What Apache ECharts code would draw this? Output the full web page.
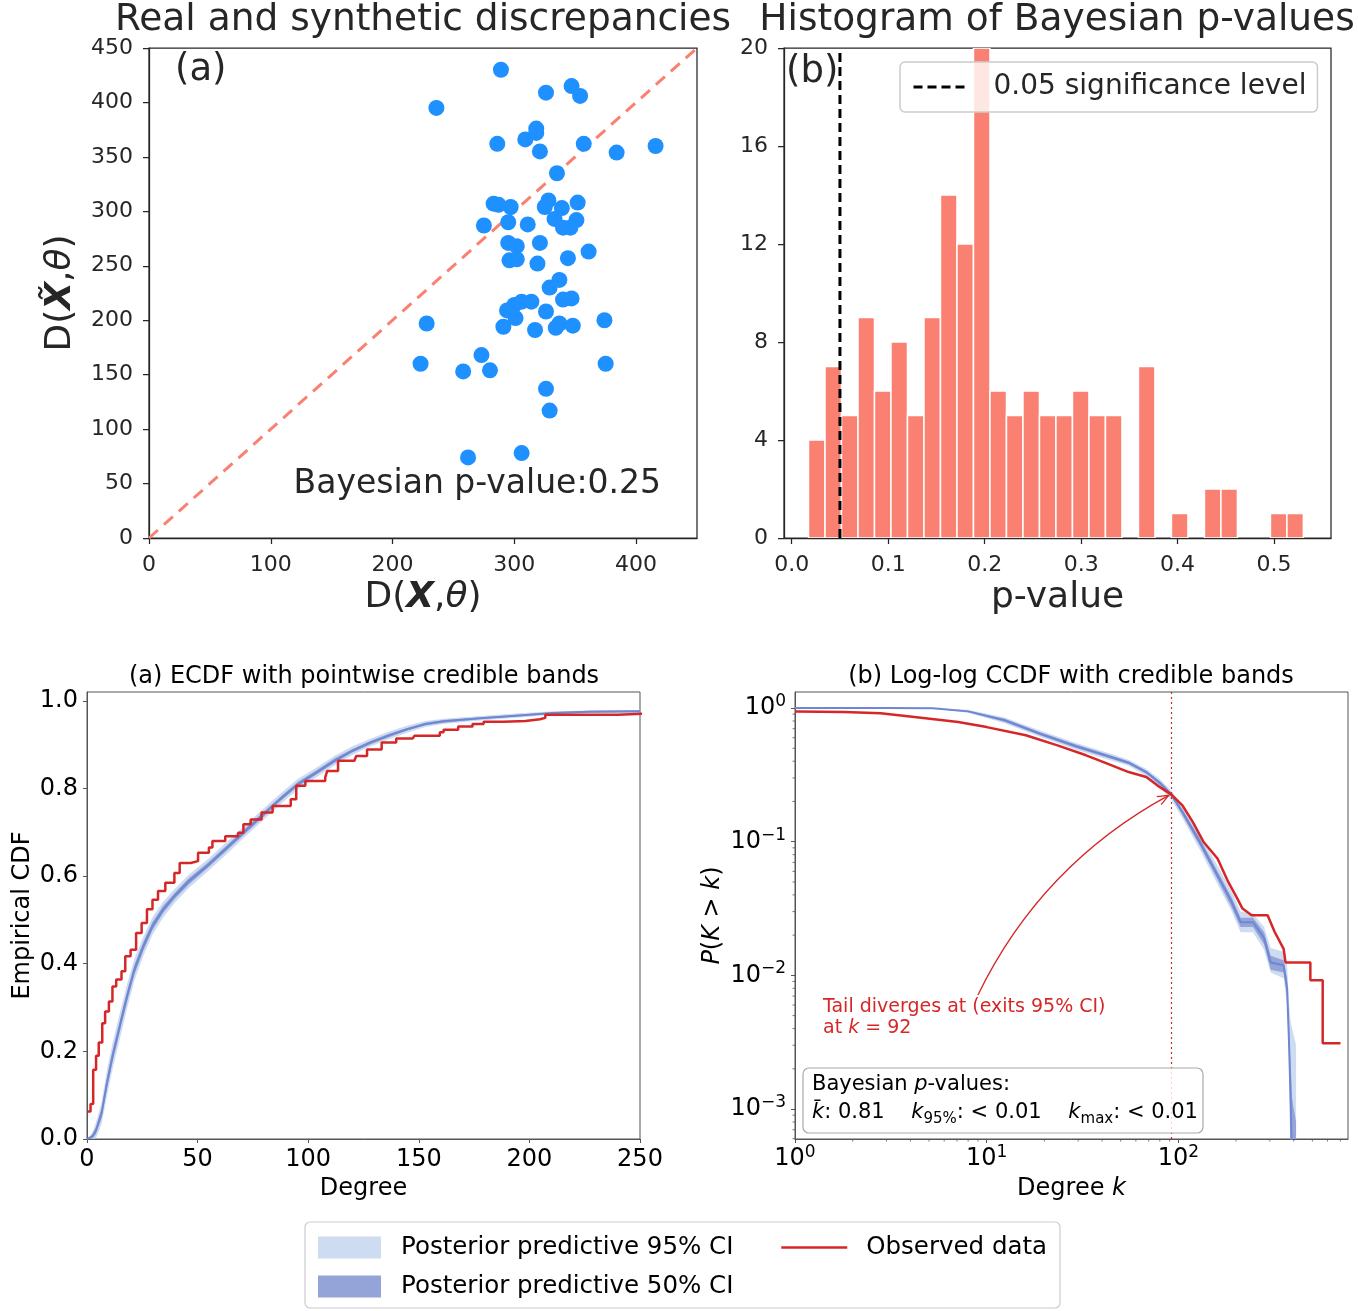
<!DOCTYPE html>
<html>
<head>
<meta charset="utf-8">
<script src="https://cdn.jsdelivr.net/npm/echarts@6/dist/echarts.min.js"></script>
<style>
  html, body { margin: 0; padding: 0; background: #fff; }
  #chart { width: 1358px; height: 1311px; }
</style>
</head>
<body>
<div id="chart"></div>
<script>
// ---- (a) real vs synthetic discrepancies, one point per posterior draw ----
var realDisc  = [289,236,326,347,354,286,309,318,318,321,357,384,416,335,283,287,297,328,325,339,352,275,295,311,333,340,351,346,295,302,321,361,296,302,319,344,337,329,294,300,306,314,326,301,340,347,291,317,337,334,348,228,374,223,273,258,280,375,326,329,262,306];
var synthDisc = [430,395,409,415,406,362,366,376,372,355,362,354,360,335,307,306,304,310,304,303,308,287,290,288,293,285,292,285,271,268,271,263,255,256,252,257,237,230,209,214,217,217,208,202,219,220,194,191,197,193,195,197,200,160,168,153,154,160,137,117,74,78];
var scatterTicksX = [0, 100, 200, 300, 400];
var scatterTicksY = [0, 50, 100, 150, 200, 250, 300, 350, 400, 450];

// ---- (b) histogram of Bayesian p-values ----
var pBinStart = 0.0174;
var pBinWidth = 0.0171;
var pCounts = [4,7,5,9,6,8,5,9,14,12,20,6,5,6,5,5,6,5,5,0,7,0,1,0,2,2,0,0,1,1];
var pSignif = 0.05;
var histTicksX = [0, 0.1, 0.2, 0.3, 0.4, 0.5];
var histTicksY = [0, 4, 8, 12, 16, 20];

// ---- ECDF ----
var ecdfDeg    = [0,0.8,2.5,4.1,6.6,9,11.5,14.8,18.1,21.4,25.5,29.6,34.5,39.5,46,54.3,62.5,70.7,78.9,87.2,95.4,103.6,111.8,120,128.3,136.5,144.7,153,161.2,177.6,194,210.5,227,250];
var ecdfMed    = [0,0,0.006,0.02,0.059,0.127,0.188,0.257,0.325,0.386,0.44,0.486,0.524,0.554,0.588,0.623,0.661,0.699,0.737,0.775,0.81,0.836,0.863,0.886,0.905,0.921,0.935,0.947,0.953,0.96,0.966,0.972,0.975,0.976];
var ecdfHalf95 = [0,0.004,0.01,0.018,0.025,0.03,0.03,0.03,0.028,0.025,0.022,0.02,0.018,0.016,0.015,0.014,0.014,0.013,0.013,0.012,0.012,0.011,0.011,0.01,0.009,0.009,0.008,0.007,0.006,0.005,0.005,0.004,0.003,0.003];
var ecdfHalf50 = [0,0.002,0.005,0.008,0.011,0.013,0.013,0.013,0.012,0.011,0.01,0.009,0.008,0.007,0.007,0.006,0.006,0.006,0.006,0.005,0.005,0.005,0.005,0.004,0.004,0.004,0.003,0.003,0.003,0.002,0.002,0.002,0.002,0.002];
var ecdfObsDeg = [0.3,1.6,2.8,4.1,5.3,6.9,8.2,9.9,11.5,13.2,15.6,17.3,19.7,22.2,24.7,27.1,29.6,32.1,35.4,39.5,41.9,46.9,50.2,55.1,56.7,62.5,68.3,70.7,74,78.9,83.9,92.1,94.6,98.7,107.7,108.6,113.5,120.9,121.7,126.6,133.2,139.8,147.2,148,159.5,161.2,167.8,174.3,179.3,188.3,198.2,204.8,207.2,240,260];
var ecdfObsVal = [0.0625,0.08,0.158,0.19,0.22,0.264,0.291,0.314,0.348,0.364,0.383,0.417,0.432,0.47,0.493,0.524,0.546,0.566,0.585,0.607,0.63,0.634,0.653,0.665,0.68,0.691,0.699,0.718,0.729,0.745,0.76,0.775,0.806,0.817,0.825,0.84,0.863,0.863,0.874,0.889,0.905,0.914,0.914,0.92,0.928,0.934,0.941,0.947,0.952,0.954,0.958,0.961,0.968,0.972,0.973];
var ecdfTicksX = [0, 50, 100, 150, 200, 250];
var ecdfTicksY = [0, 0.2, 0.4, 0.6, 0.8, 1.0];

// ---- log-log CCDF ----
var ccdfK     = [1,3,5.25,8,12.4,19,29,44.5,55,68,81,92,105,129,160,190,211,245,280,303,354,369,377,385,392,411];
var ccdfMed   = [1,1,0.995,0.944,0.81,0.642,0.52,0.43,0.39,0.332,0.271,0.225,0.167,0.1,0.056,0.0354,0.025,0.025,0.019,0.0125,0.0119,0.008,0.0034,0.0012,0.0003,0.0003];
var ccdfHi95  = [1,1,1,0.97,0.85,0.68,0.55,0.455,0.41,0.35,0.29,0.24,0.185,0.115,0.066,0.042,0.03,0.029,0.023,0.016,0.015,0.012,0.0065,0.0045,0.004,0.003];
var ccdfLo95  = [0.995,0.99,0.985,0.92,0.77,0.61,0.49,0.405,0.37,0.31,0.25,0.205,0.15,0.088,0.048,0.03,0.021,0.021,0.0155,0.0105,0.0095,0.006,0.0025,0.0003,0.0003,0.0003];
var ccdfHi50  = [1,1,0.998,0.955,0.83,0.66,0.535,0.442,0.4,0.34,0.28,0.232,0.175,0.107,0.06,0.038,0.027,0.027,0.021,0.014,0.013,0.0095,0.0045,0.0022,0.0012,0.0008];
var ccdfLo50  = [0.998,0.997,0.99,0.933,0.79,0.625,0.505,0.418,0.38,0.322,0.262,0.217,0.158,0.094,0.052,0.032,0.023,0.023,0.017,0.011,0.0105,0.007,0.0028,0.0006,0.0003,0.0003];
var ccdfObsK  = [1,1.8,2.8,4.2,7.1,10,16,23.4,33,42.6,55,68,77.6,92,105,119,135,160,182,203,216,241,292,318,354,362,488,488,566,566,701];
var ccdfObsP  = [0.94,0.935,0.915,0.857,0.786,0.72,0.625,0.526,0.443,0.384,0.332,0.305,0.264,0.225,0.187,0.14,0.1,0.0748,0.05,0.0375,0.0316,0.0282,0.0282,0.0211,0.0158,0.0125,0.0125,0.0092,0.0092,0.0031,0.0031];
var tailK = 92;
var ccdfTicksX = [1, 10, 100];
var ccdfTicksY = [0.001, 0.01, 0.1, 1];
var ccdfXRange = [1, 767];
var ccdfYRange = [0.000597, 1.318];

var RED = '#d62728';
var C95 = '#cddcf0';
var C50 = '#94a4d8';
var CMED = '#6f87d3';
var FONT = 'DejaVu Sans';

function zip(a, b) { return a.map(function (v, i) { return [v, b[i]]; }); }

// 10^n labels drawn as base + raised exponent
function logLabel(v) {
  var e = Math.round(Math.log10(v));
  return '{b|10}{e|' + (e < 0 ? '\u2212' + (-e) : e) + '}';
}
var logRich = {
  b: {fontSize: 24, fontFamily: FONT, color: '#000', lineHeight: 30},
  e: {fontSize: 17, fontFamily: FONT, color: '#000', lineHeight: 17, verticalAlign: 'top'}
};

function baseAxis(gi, dark, fs, margin, ticks, fmt) {
  var col = dark ? '#262626' : '#555';
  return {
    gridIndex: gi, type: 'value',
    axisLine: {show: true, onZero: false, lineStyle: {color: col, width: dark ? 1.25 : 1}},
    axisTick: {show: true, length: dark ? 6 : 4, customValues: ticks, lineStyle: {color: col, width: dark ? 1.25 : 1}},
    axisLabel: {fontSize: fs, fontFamily: FONT, color: dark ? '#262626' : '#000', margin: margin, customValues: ticks, formatter: fmt},
    splitLine: {show: false}
  };
}

function bandSeries(name, gi, xs, lo, hi, color, z) {
  return {
    type: 'custom', name: name, xAxisIndex: gi, yAxisIndex: gi, clip: true, silent: true, z: z,
    itemStyle: {color: color},
    data: [[xs[xs.length - 1], hi[hi.length - 1]]],
    renderItem: function (params, api) {
      var top = [], bot = [];
      for (var i = 0; i < xs.length; i++) {
        top.push(api.coord([xs[i], hi[i]]));
        bot.unshift(api.coord([xs[i], lo[i]]));
      }
      return {type: 'polygon', shape: {points: top.concat(bot)}, style: {fill: color}};
    }
  };
}

var ecdfLo95 = ecdfMed.map(function (m, i) { return Math.max(0, m - ecdfHalf95[i]); });
var ecdfHi95 = ecdfMed.map(function (m, i) { return m + ecdfHalf95[i]; });
var ecdfLo50 = ecdfMed.map(function (m, i) { return Math.max(0, m - ecdfHalf50[i]); });
var ecdfHi50 = ecdfMed.map(function (m, i) { return m + ecdfHalf50[i]; });

var histData = [];
pCounts.forEach(function (c, i) {
  if (c > 0) histData.push([pBinStart + i * pBinWidth, pBinStart + (i + 1) * pBinWidth, c]);
});

// axes
var xScatter = baseAxis(0, true, 22, 16, scatterTicksX);
xScatter.min = 0; xScatter.max = 450;
xScatter.name = '{n|D(}{b|X}{n|,}{i|\u03b8}{n|)}';
xScatter.nameLocation = 'middle'; xScatter.nameGap = 42;
xScatter.nameTextStyle = {fontSize: 36, color: '#262626', rich: {
  n: {fontSize: 36, fontFamily: FONT, color: '#262626'},
  b: {fontSize: 36, fontFamily: FONT, color: '#262626', fontWeight: 'bold', fontStyle: 'italic'},
  i: {fontSize: 36, fontFamily: FONT, color: '#262626', fontStyle: 'italic'}}};

var yScatter = baseAxis(0, true, 22, 16, scatterTicksY);
yScatter.min = 0; yScatter.max = 450;
yScatter.name = '{n|D(}{b|X\u0303}{n|,}{i|\u03b8}{n|)}';
yScatter.nameLocation = 'middle'; yScatter.nameGap = 70;
yScatter.nameTextStyle = xScatter.nameTextStyle;

var xHist = baseAxis(1, true, 22, 16, histTicksX, function (v) { return v.toFixed(1); });
xHist.min = -0.008; xHist.max = 0.559;
xHist.name = 'p-value'; xHist.nameLocation = 'middle'; xHist.nameGap = 42;
xHist.nameTextStyle = {fontSize: 36, color: '#262626', fontFamily: FONT};

var yHist = baseAxis(1, true, 22, 16, histTicksY);
yHist.min = 0; yHist.max = 20;

var xEcdf = baseAxis(2, false, 24, 9, ecdfTicksX);
xEcdf.min = 0; xEcdf.max = 250;
xEcdf.name = 'Degree'; xEcdf.nameLocation = 'middle'; xEcdf.nameGap = 38;
xEcdf.nameTextStyle = {fontSize: 24, color: '#000', fontFamily: FONT};

var yEcdf = baseAxis(2, false, 24, 9, ecdfTicksY, function (v) { return v.toFixed(1); });
yEcdf.min = 0; yEcdf.max = 1.02;
yEcdf.name = 'Empirical CDF'; yEcdf.nameLocation = 'middle'; yEcdf.nameGap = 52;
yEcdf.nameTextStyle = {fontSize: 24, color: '#000', fontFamily: FONT};

var xCcdf = baseAxis(3, false, 24, 5, ccdfTicksX, logLabel);
xCcdf.axisLabel.rich = logRich;
xCcdf.type = 'log'; xCcdf.logBase = 10;
xCcdf.min = ccdfXRange[0]; xCcdf.max = ccdfXRange[1];
xCcdf.name = '{n|Degree }{i|k}'; xCcdf.nameLocation = 'middle'; xCcdf.nameGap = 38;
xCcdf.nameTextStyle = {fontSize: 24, color: '#000', rich: {
  n: {fontSize: 24, fontFamily: FONT, color: '#000'},
  i: {fontSize: 24, fontFamily: FONT, color: '#000', fontStyle: 'italic'}}};

var yCcdf = baseAxis(3, false, 24, 9, ccdfTicksY, logLabel);
yCcdf.axisLabel.rich = logRich;
yCcdf.type = 'log'; yCcdf.logBase = 10;
yCcdf.min = ccdfYRange[0]; yCcdf.max = ccdfYRange[1];
yCcdf.name = '{i|P}{n|(}{i|K}{n| > }{i|k}{n|)}'; yCcdf.nameLocation = 'middle'; yCcdf.nameGap = 70;
yCcdf.nameTextStyle = xCcdf.nameTextStyle;

function gridBox(left, top, width, height, dark) {
  return {left: left, top: top, width: width, height: height, show: true,
    borderColor: dark ? '#262626' : '#555', borderWidth: dark ? 1.25 : 1,
    backgroundColor: 'transparent', containLabel: false, outerBoundsMode: 'none'};
}

var option = {
  animation: false,
  backgroundColor: '#fff',
  textStyle: {fontFamily: FONT},
  grid: [
    gridBox(149, 48, 548, 490, true),
    gridBox(784, 48, 547, 490, true),
    gridBox(87, 692, 553, 447, false),
    gridBox(795, 692, 553, 447, false)
  ],
  xAxis: [xScatter, xHist, xEcdf, xCcdf],
  yAxis: [yScatter, yHist, yEcdf, yCcdf],
  legend: [
    {
      data: ['0.05 significance level'],
      left: 900, top: 62, orient: 'horizontal',
      padding: [10, 11, 10, 12], itemWidth: 55, itemHeight: 16,
      borderColor: '#cccccc', borderWidth: 1.5, borderRadius: 5,
      backgroundColor: 'rgba(255,255,255,0.8)',
      itemStyle: {color: 'rgba(0,0,0,0)', borderColor: 'rgba(0,0,0,0)', borderWidth: 0},
      lineStyle: {color: '#000', width: 3, type: [9, 5]},
      textStyle: {fontSize: 28, color: '#262626', fontFamily: FONT, padding: [0, 0, 0, 20], lineHeight: 30},
      selectedMode: false
    },
    {
      data: [{name: 'Posterior predictive 95% CI', icon: 'rect'}, {name: 'Posterior predictive 50% CI', icon: 'rect'}],
      left: 318, top: 1235, orient: 'vertical', padding: 0,
      itemWidth: 63, itemHeight: 22, itemGap: 14,
      textStyle: {fontSize: 24.5, color: '#000', fontFamily: FONT, padding: [0, 0, 0, 15], lineHeight: 22},
      selectedMode: false
    },
    {
      data: ['Observed data'],
      left: 780, top: 1235, orient: 'vertical', padding: 0,
      itemWidth: 66, itemHeight: 22,
      itemStyle: {color: 'rgba(0,0,0,0)', borderColor: 'rgba(0,0,0,0)', borderWidth: 0},
      lineStyle: {color: RED, width: 2.5},
      textStyle: {fontSize: 24.5, color: '#000', fontFamily: FONT, padding: [0, 0, 0, 14], lineHeight: 22},
      selectedMode: false
    }
  ],
  series: [
    // (a) scatter panel
    {
      type: 'line', xAxisIndex: 0, yAxisIndex: 0, z: 2, silent: true,
      data: [[0, 0], [450, 450]], symbol: 'none',
      lineStyle: {color: '#fa8072', width: 3, type: [12, 8]}
    },
    {
      type: 'scatter', xAxisIndex: 0, yAxisIndex: 0, z: 3,
      data: zip(realDisc, synthDisc), symbolSize: 16,
      itemStyle: {color: '#1e90ff', opacity: 1}
    },
    // (b) histogram
    {
      type: 'custom', xAxisIndex: 1, yAxisIndex: 1, z: 2, clip: true,
      data: histData, encode: {x: [0, 1], y: 2},
      renderItem: function (params, api) {
        var p0 = api.coord([api.value(0), api.value(2)]);
        var p1 = api.coord([api.value(1), 0]);
        return {type: 'rect',
          shape: {x: p0[0], y: p0[1], width: p1[0] - p0[0], height: p1[1] - p0[1]},
          style: {fill: '#fa8072', stroke: '#fff', lineWidth: 1.5}};
      }
    },
    {
      type: 'line', name: '0.05 significance level', xAxisIndex: 1, yAxisIndex: 1, z: 4,
      data: [[pSignif, 0], [pSignif, 20]], symbol: 'none', showSymbol: false,
      lineStyle: {color: '#000', width: 3, type: [9, 5]}, itemStyle: {color: '#000'}
    },
    // ECDF
    bandSeries('Posterior predictive 95% CI', 2, ecdfDeg, ecdfLo95, ecdfHi95, C95, 1),
    bandSeries('Posterior predictive 50% CI', 2, ecdfDeg, ecdfLo50, ecdfHi50, C50, 2),
    {
      type: 'line', xAxisIndex: 2, yAxisIndex: 2, z: 3, silent: true,
      data: zip(ecdfDeg, ecdfMed), symbol: 'none',
      lineStyle: {color: CMED, width: 2}
    },
    {
      type: 'line', name: 'Observed data', xAxisIndex: 2, yAxisIndex: 2, z: 4,
      data: zip(ecdfObsDeg, ecdfObsVal), symbol: 'none', showSymbol: false, step: 'end',
      lineStyle: {color: RED, width: 2.5}, itemStyle: {color: RED}
    },
    // CCDF
    bandSeries('Posterior predictive 95% CI', 3, ccdfK, ccdfLo95, ccdfHi95, C95, 1),
    bandSeries('Posterior predictive 50% CI', 3, ccdfK, ccdfLo50, ccdfHi50, C50, 2),
    {
      type: 'line', xAxisIndex: 3, yAxisIndex: 3, z: 3, silent: true,
      data: zip(ccdfK, ccdfMed), symbol: 'none',
      lineStyle: {color: CMED, width: 2}
    },
    {
      type: 'line', name: 'Observed data', xAxisIndex: 3, yAxisIndex: 3, z: 4,
      data: zip(ccdfObsK, ccdfObsP), symbol: 'none', showSymbol: false,
      lineStyle: {color: RED, width: 2.5}, itemStyle: {color: RED},
      markLine: {
        silent: true, symbol: 'none', label: {show: false},
        lineStyle: {color: RED, width: 1.2, type: [2, 3]},
        data: [{xAxis: tailK}]
      }
    },
    // annotation arrow (data anchored)
    {
      type: 'custom', xAxisIndex: 3, yAxisIndex: 3, z: 6, clip: false, silent: true,
      data: [[9.0, 0.00713]],
      renderItem: function (params, api) {
        var a = api.coord([9.0, 0.00713]);
        var b = api.coord([89, 0.222]);
        var dx = b[0] - a[0], dy = b[1] - a[1];
        var cx = (a[0] + b[0]) / 2 + 0.16 * dy, cy = (a[1] + b[1]) / 2 - 0.16 * dx;
        var ux = b[0] - cx, uy = b[1] - cy, L = Math.sqrt(ux * ux + uy * uy);
        ux /= L; uy /= L;
        var h = 11, w = 4.5;
        return {type: 'group', children: [
          {type: 'bezierCurve', shape: {x1: a[0], y1: a[1], x2: b[0], y2: b[1], cpx1: cx, cpy1: cy},
            style: {stroke: RED, lineWidth: 1.3, fill: null}},
          {type: 'polyline', shape: {points: [
            [b[0] - h * ux - w * uy, b[1] - h * uy + w * ux], [b[0], b[1]],
            [b[0] - h * ux + w * uy, b[1] - h * uy - w * ux]]},
            style: {stroke: RED, lineWidth: 1.3, fill: null}}
        ]};
      }
    },
    // minor ticks of the log axes
    {
      type: 'custom', xAxisIndex: 3, yAxisIndex: 3, z: 6, clip: false, silent: true,
      data: [[1, 1]],
      renderItem: function (params, api) {
        var kids = [];
        for (var d = -4; d <= 2; d++) {
          for (var m = 2; m <= 9; m++) {
            var v = m * Math.pow(10, d);
            if (v > ccdfYRange[0] && v < ccdfYRange[1]) {
              var p = api.coord([ccdfXRange[0], v]);
              kids.push({type: 'line', shape: {x1: p[0], y1: p[1], x2: p[0] - 2.5, y2: p[1]}, style: {stroke: '#555', lineWidth: 0.8}});
            }
            if (v > ccdfXRange[0] && v < ccdfXRange[1]) {
              var q = api.coord([v, ccdfYRange[0]]);
              kids.push({type: 'line', shape: {x1: q[0], y1: q[1], x2: q[0], y2: q[1] + 2.5}, style: {stroke: '#555', lineWidth: 0.8}});
            }
          }
        }
        return {type: 'group', children: kids};
      }
    }
  ],
  graphic: [
    {type: 'text', x: 423, y: 20, z: 100, style: {text: 'Real and synthetic discrepancies', fontSize: 37.5, fontFamily: FONT, fill: '#262626', align: 'center', verticalAlign: 'middle'}},
    {type: 'text', x: 1057, y: 20, z: 100, style: {text: 'Histogram of Bayesian p-values', fontSize: 37.5, fontFamily: FONT, fill: '#262626', align: 'center', verticalAlign: 'middle'}},
    {type: 'text', x: 175, y: 70, z: 100, style: {text: '(a)', fontSize: 37, fontFamily: FONT, fill: '#262626', align: 'left', verticalAlign: 'middle'}},
    {type: 'text', x: 661, y: 484, z: 100, style: {text: 'Bayesian p-value:0.25', fontSize: 33, fontFamily: FONT, fill: '#262626', align: 'right', verticalAlign: 'middle'}},
    {type: 'text', x: 786, y: 72, z: 100, style: {text: '(b)', fontSize: 37, fontFamily: FONT, fill: '#262626', align: 'left', verticalAlign: 'middle'}},
    {type: 'text', x: 364, y: 677, z: 100, style: {text: '(a) ECDF with pointwise credible bands', fontSize: 24, fontFamily: FONT, fill: '#000', align: 'center', verticalAlign: 'middle'}},
    {type: 'text', x: 1071, y: 677, z: 100, style: {text: '(b) Log-log CCDF with credible bands', fontSize: 24, fontFamily: FONT, fill: '#000', align: 'center', verticalAlign: 'middle'}},
    {type: 'text', x: 823, y: 997, z: 100, style: {
      text: '{t|Tail diverges at (exits 95% CI)}\n{t|at }{i|k}{t| = 92}',
      align: 'left', verticalAlign: 'top',
      rich: {
        t: {fontSize: 19, fontFamily: FONT, fill: RED, lineHeight: 21},
        i: {fontSize: 19, fontFamily: FONT, fill: RED, lineHeight: 21, fontStyle: 'italic'}
      }}},
    {type: 'rect', z: 99, shape: {x: 803, y: 1068, width: 400, height: 65, r: 6},
      style: {fill: 'rgba(255,255,255,0.8)', stroke: '#aaaaaa', lineWidth: 1.2}},
    {type: 'text', x: 812, y: 1071, z: 100, style: {
      text: '{t|Bayesian }{i|p}{t|-values:}\n{i|k\u0304}{t|: 0.81    }{i|k}{s|95%}{t|: < 0.01    }{i|k}{s|max}{t|: < 0.01}',
      align: 'left', verticalAlign: 'top',
      rich: {
        t: {fontSize: 21, fontFamily: FONT, fill: '#000', lineHeight: 28},
        i: {fontSize: 21, fontFamily: FONT, fill: '#000', lineHeight: 28, fontStyle: 'italic'},
        s: {fontSize: 15, fontFamily: FONT, fill: '#000', lineHeight: 15, verticalAlign: 'bottom'}
      }}},
    {type: 'rect', z: 0, silent: true, shape: {x: 305, y: 1222, width: 755, height: 86, r: 5},
      style: {fill: null, stroke: '#cccccc', lineWidth: 1.2}}
  ]
};

var chart = echarts.init(document.getElementById('chart'));
chart.setOption(option);
</script>
</body>
</html>
